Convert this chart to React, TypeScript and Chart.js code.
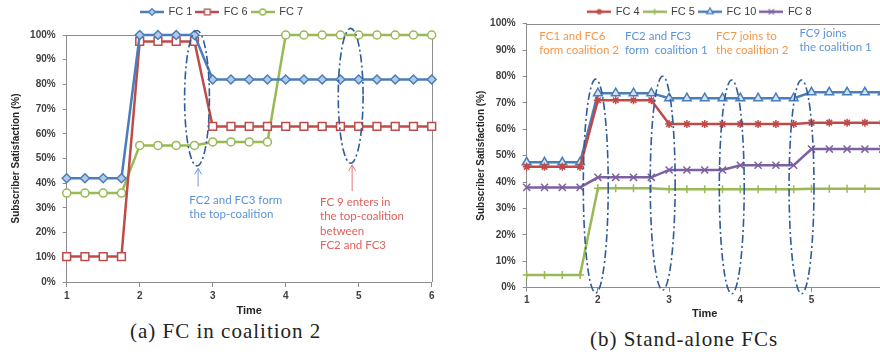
import React, { useEffect, useRef } from 'react';
import { Chart, registerables } from 'chart.js';
import { drawPoint } from 'chart.js/helpers';

Chart.register(...registerables);

// ---------- DATA ----------
const times = [1, 1.25, 1.5, 1.75, 2, 2.25, 2.5, 2.75, 3, 3.25, 3.5, 3.75, 4, 4.25, 4.5, 4.75, 5, 5.25, 5.5, 5.75, 6];

// (a) FC in coalition 2
const fc1 = [42, 42, 42, 42, 100, 100, 100, 100, 82, 82, 82, 82, 82, 82, 82, 82, 82, 82, 82, 82, 82];
const fc6 = [10.3, 10.3, 10.3, 10.3, 97.4, 97.4, 97.4, 97.4, 63, 63, 63, 63, 63, 63, 63, 63, 63, 63, 63, 63, 63];
const fc7 = [36, 36, 36, 36, 55.3, 55.3, 55.3, 55.3, 56.7, 56.7, 56.7, 56.7, 100, 100, 100, 100, 100, 100, 100, 100, 100];

// (b) Stand-alone FCs
const fc4 = [45.8, 45.8, 45.8, 45.8, 71, 71, 71, 71, 62, 62, 62, 62, 62, 62, 62, 62, 62.5, 62.5, 62.5, 62.5, 62.5];
const fc5 = [4.8, 4.8, 4.8, 4.8, 37.7, 37.7, 37.7, 37.7, 37.3, 37.3, 37.3, 37.3, 37.3, 37.3, 37.3, 37.3, 37.5, 37.5, 37.5, 37.5, 37.5];
const fc10 = [47.5, 47.5, 47.5, 47.5, 73.7, 73.7, 73.7, 73.7, 71.8, 71.8, 71.8, 71.8, 71.8, 71.8, 71.8, 71.8, 74, 74, 74, 74, 74];
const fc8 = [38, 38, 38, 38, 41.8, 41.8, 41.8, 41.8, 44.6, 44.6, 44.6, 44.6, 46.4, 46.4, 46.4, 46.4, 52.5, 52.5, 52.5, 52.5, 52.5];

const xTitle = 'Time';
const yTitle = 'Subscriber Satisfaction (%)';
const captionA = '(a) FC in coalition 2';
const captionB = '(b) Stand-alone FCs';

// ---------- STYLES ----------
const BLUE = '#4A7EBB';
const RED = '#BE4B48';
const GREEN = '#98B954';
const PURPLE = '#7D60A0';
const AXIS = '#8C8C8C';
const ELLIPSE = '#2F5B96';
const NOTE_BLUE = '#5B93D8';
const NOTE_RED = '#E0605C';
const NOTE_ORANGE = '#F79646';
const NOTE_FONT = 'Lato, "Liberation Sans", sans-serif';

type Series = {
  label: string; data: number[]; color: string; pointStyle: string;
  radius: number; fill: string; pbw: number;
};

const seriesA: Series[] = [
  { label: 'FC 1', data: fc1, color: BLUE, pointStyle: 'rectRot', radius: 4.5, fill: '#B4C9E6', pbw: 1.5 },
  { label: 'FC 6', data: fc6, color: RED, pointStyle: 'rect', radius: 5.5, fill: '#FFFFFF', pbw: 1.5 },
  { label: 'FC 7', data: fc7, color: GREEN, pointStyle: 'circle', radius: 4, fill: '#FFFFFF', pbw: 1.5 },
];
const seriesB: Series[] = [
  { label: 'FC 4', data: fc4, color: RED, pointStyle: 'star', radius: 4, fill: RED, pbw: 1.5 },
  { label: 'FC 5', data: fc5, color: GREEN, pointStyle: 'cross', radius: 4, fill: GREEN, pbw: 1.5 },
  { label: 'FC 10', data: fc10, color: BLUE, pointStyle: 'triangle', radius: 5, fill: '#D5E2F3', pbw: 1.5 },
  { label: 'FC 8', data: fc8, color: PURPLE, pointStyle: 'crossRot', radius: 5, fill: PURPLE, pbw: 1.5 },
];

type Ell = { cx: number; cy: number; rx: number; ry: number };
type Arrow = { x: number; from: number; to: number; color: string };
type Note = { x: number; y: number; lines: string[]; color: string; gap: number };

const annotA = {
  ellipses: [
    { cx: 2.785, cy: 74.4, rx: 0.17, ry: 27.4 },
    { cx: 4.89, cy: 75.4, rx: 0.17, ry: 27.3 },
  ] as Ell[],
  arrows: [
    { x: 2.8, from: 38.7, to: 46, color: '#6C9BD2' },
    { x: 4.91, from: 36.8, to: 47.4, color: '#E07A7A' },
  ] as Arrow[],
  notes: [
    { x: 2.68, y: 33.2, lines: ['FC2 and FC3 form', 'the top-coalition'], color: NOTE_BLUE, gap: 14 },
    { x: 4.47, y: 32.4, lines: ['FC 9 enters in', 'the top-coalition', 'between', 'FC2 and FC3'], color: NOTE_RED, gap: 14.6 },
  ] as Note[],
};

const annotB = {
  ellipses: [
    { cx: 1.97, cy: 38.5, rx: 0.175, ry: 40.5 },
    { cx: 2.91, cy: 39.6, rx: 0.175, ry: 40.5 },
    { cx: 3.88, cy: 38.2, rx: 0.175, ry: 40.5 },
    { cx: 4.86, cy: 38.2, rx: 0.175, ry: 40.5 },
  ] as Ell[],
  arrows: [] as Arrow[],
  notes: [
    { x: 1.177, y: 95.4, lines: ['FC1 and FC6', 'form coalition 2'], color: NOTE_ORANGE, gap: 14 },
    { x: 2.38, y: 95.4, lines: ['FC2 and FC3', 'form  coalition 1'], color: NOTE_BLUE, gap: 14 },
    { x: 3.66, y: 95.4, lines: ['FC7 joins to', 'the coalition 2'], color: NOTE_ORANGE, gap: 14 },
    { x: 4.83, y: 96.4, lines: ['FC9 joins', 'the coalition 1'], color: NOTE_BLUE, gap: 14 },
  ] as Note[],
};

type Panel = {
  canvasLeft: number; canvasTop: number; W: number; H: number;
  area: { left: number; right: number; top: number; bottom: number };
  legendX: number; legendY: number; yTitleX: number; xTitleY: number;
  xTickLen: number; xTickPad: number;
  series: Series[];
  annot: typeof annotA;
};

const panelA: Panel = {
  canvasLeft: 0, canvasTop: 0, W: 440, H: 318,
  area: { left: 66.7, right: 431.7, top: 35, bottom: 282 },
  legendX: 222, legendY: 12, yTitleX: 16, xTitleY: 311,
  xTickLen: 5, xTickPad: 3,
  series: seriesA, annot: annotA,
};
const panelB: Panel = {
  canvasLeft: 440, canvasTop: -10, W: 460, H: 331,
  area: { left: 526.7, right: 882.7, top: 23.7, bottom: 287.7 },
  legendX: 700, legendY: 11.7, yTitleX: 481.7, xTitleY: 314.3,
  xTickLen: 4, xTickPad: 2.5,
  series: seriesB, annot: annotB,
};

const LEGEND_FONT = 11;
const LEGEND_PAD = 4;

function legendImage(s: Series): HTMLCanvasElement {
  const c = document.createElement('canvas');
  c.width = 24; c.height = 12;
  const ctx = c.getContext('2d')!;
  ctx.strokeStyle = s.color; ctx.lineWidth = 2.5;
  ctx.beginPath(); ctx.moveTo(0, 6); ctx.lineTo(24, 6); ctx.stroke();
  ctx.fillStyle = s.fill; ctx.strokeStyle = s.color; ctx.lineWidth = 1.3;
  drawPoint(ctx, { pointStyle: s.pointStyle, radius: s.radius * 0.75, borderWidth: 1.3, rotation: 0 } as any, 12, 6);
  return c;
}

function buildChart(canvas: HTMLCanvasElement, p: Panel) {
  const a = {
    left: p.area.left - p.canvasLeft, right: p.area.right - p.canvasLeft,
    top: p.area.top - p.canvasTop, bottom: p.area.bottom - p.canvasTop,
  };
  const legendH = LEGEND_FONT + LEGEND_PAD + 10;
  const images = p.series.map(legendImage);
  const tickFont = { family: '"Liberation Sans", Arial, sans-serif', size: 10, weight: 'bold' as const };
  const yTitleFont = { family: '"Liberation Sans", Arial, sans-serif', size: 10, weight: 'bold' as const, lineHeight: 1.2 };
  const xTitleFont = { family: '"Liberation Sans", Arial, sans-serif', size: 11, weight: 'bold' as const, lineHeight: 1.2 };

  const plugin = {
    id: 'decor',
    afterLayout(chart: any) {
      const lg = chart.legend;
      if (!lg) return;
      const dy = (p.legendY - p.canvasTop) - (lg.top + LEGEND_PAD + LEGEND_FONT / 2);
      const dx = (p.legendX - p.canvasLeft) - (lg.left + lg.right) / 2;
      lg.top += dy; lg.bottom += dy; lg.left += dx; lg.right += dx;
    },
    beforeDatasetsDraw(chart: any) {
      const { ctx, chartArea: ca } = chart;
      ctx.save();
      ctx.strokeStyle = AXIS; ctx.lineWidth = 1;
      ctx.beginPath();
      ctx.moveTo(ca.left, Math.round(ca.top) + 0.5);
      ctx.lineTo(ca.right, Math.round(ca.top) + 0.5);
      ctx.moveTo(Math.round(ca.right) + 0.5, ca.top);
      ctx.lineTo(Math.round(ca.right) + 0.5, ca.bottom);
      ctx.stroke();
      ctx.restore();
    },
    afterDatasetsDraw(chart: any) {
      const { ctx } = chart;
      const xs = chart.scales.x, ys = chart.scales.y;
      ctx.save();
      // ellipses
      ctx.strokeStyle = ELLIPSE; ctx.lineWidth = 1.6;
      ctx.setLineDash([8, 3, 2, 3]);
      p.annot.ellipses.forEach((e) => {
        const cx = xs.getPixelForValue(e.cx);
        const cy = ys.getPixelForValue(e.cy);
        const rx = Math.abs(xs.getPixelForValue(e.cx + e.rx) - cx);
        const ry = Math.abs(ys.getPixelForValue(e.cy + e.ry) - cy);
        ctx.beginPath();
        ctx.ellipse(cx, cy, rx, ry, 0, 0, Math.PI * 2);
        ctx.stroke();
      });
      ctx.setLineDash([]);
      // arrows
      p.annot.arrows.forEach((ar) => {
        const x = xs.getPixelForValue(ar.x);
        const y1 = ys.getPixelForValue(ar.from);
        const y2 = ys.getPixelForValue(ar.to);
        ctx.strokeStyle = ar.color; ctx.lineWidth = 1;
        ctx.beginPath();
        ctx.moveTo(x, y1); ctx.lineTo(x, y2);
        ctx.moveTo(x - 3.5, y2 + 6); ctx.lineTo(x, y2); ctx.lineTo(x + 3.5, y2 + 6);
        ctx.stroke();
      });
      // notes
      ctx.font = `11.5px ${NOTE_FONT}`;
      ctx.textAlign = 'left'; ctx.textBaseline = 'middle';
      p.annot.notes.forEach((n) => {
        const x = xs.getPixelForValue(n.x);
        const y = ys.getPixelForValue(n.y);
        ctx.fillStyle = n.color;
        n.lines.forEach((ln, i) => ctx.fillText(ln, x, y + i * n.gap));
      });
      ctx.restore();
    },
  };

  return new Chart(canvas, {
    type: 'line',
    data: {
      datasets: p.series.map((s) => ({
        label: s.label,
        data: times.map((t, i) => ({ x: t, y: s.data[i] })),
        borderColor: s.color,
        backgroundColor: s.fill,
        borderWidth: 2.5,
        pointStyle: s.pointStyle as any,
        pointRadius: s.radius,
        pointBorderWidth: s.pbw,
        pointBorderColor: s.color,
        pointBackgroundColor: s.fill,
        tension: 0,
        fill: false,
        clip: false as any,
      })),
    },
    options: {
      responsive: false,
      animation: false,
      events: [],
      layout: { padding: { top: a.top - legendH, left: 0, right: p.W - a.right, bottom: 0 } },
      plugins: {
        legend: {
          display: true,
          position: 'top',
          labels: {
            usePointStyle: true,
            pointStyleWidth: 22,
            padding: LEGEND_PAD,
            color: '#404040',
            font: { family: '"Liberation Sans", Arial, sans-serif', size: LEGEND_FONT },
            generateLabels: (chart: any) => {
              const items = (Chart.defaults.plugins.legend.labels as any).generateLabels(chart);
              items.forEach((it: any, i: number) => { it.pointStyle = images[i]; });
              return items;
            },
          },
        },
        tooltip: { enabled: false },
        title: { display: false },
      },
      scales: {
        x: {
          type: 'linear',
          min: 1, max: 6,
          afterFit: (s: any) => { s.height = p.H - a.bottom; },
          grid: { drawOnChartArea: false, drawTicks: true, tickLength: p.xTickLen, color: AXIS },
          border: { color: AXIS, width: 1 },
          ticks: { stepSize: 1, padding: p.xTickPad, font: tickFont, color: '#404040', maxRotation: 0, autoSkip: false },
          title: { display: true, text: xTitle, font: xTitleFont, color: '#262626', padding: { top: 0, bottom: p.H - (p.xTitleY - p.canvasTop) - 6.6 } },
        },
        y: {
          min: 0, max: 100,
          afterFit: (s: any) => { s.width = a.left; },
          grid: { drawOnChartArea: false, drawTicks: true, tickLength: 4, color: AXIS },
          border: { color: AXIS, width: 1 },
          ticks: { stepSize: 10, padding: 7, font: tickFont, color: '#404040', callback: (v: any) => `${v}%` },
          title: { display: true, text: yTitle, font: yTitleFont, color: '#262626', padding: { top: (p.yTitleX - p.canvasLeft) - 6, bottom: 0 } },
        },
      },
    } as any,
    plugins: [plugin],
  });
}

function PanelChart({ panel }: { panel: Panel }) {
  const ref = useRef<HTMLCanvasElement>(null);
  useEffect(() => {
    const chart = buildChart(ref.current!, panel);
    return () => chart.destroy();
  }, [panel]);
  return (
    <canvas
      ref={ref}
      width={panel.W}
      height={panel.H}
      style={{ position: 'absolute', left: panel.canvasLeft, top: panel.canvasTop, width: panel.W, height: panel.H }}
    />
  );
}

function Caption({ text, cx, cy }: { text: string; cx: number; cy: number }) {
  return (
    <div
      style={{
        position: 'absolute', left: cx, top: cy, transform: 'translate(-50%, -50%)',
        whiteSpace: 'nowrap', fontFamily: '"Liberation Serif", serif', fontSize: 21,
        letterSpacing: 1, lineHeight: 1, color: '#222',
      }}
    >
      {text}
    </div>
  );
}

export default function App() {
  return (
    <div style={{ position: 'fixed', left: 0, top: 0, width: 880, height: 355, overflow: 'hidden', background: '#fff' }}>
      <PanelChart panel={panelA} />
      <PanelChart panel={panelB} />
      <Caption text={captionA} cx={225.7} cy={331} />
      <Caption text={captionB} cx={684} cy={339} />
    </div>
  );
}
